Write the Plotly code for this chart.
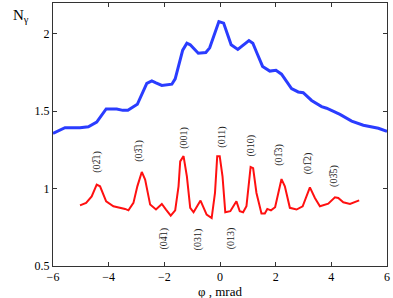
import plotly.graph_objects as go

blue_x = [-6.0, -5.57, -5.03, -4.73, -4.43, -4.09, -3.71, -3.49, -3.31, -2.97, -2.63, -2.45, -2.30, -2.09,
          -1.73, -1.61, -1.34, -1.19, -1.07, -0.78, -0.51, -0.37, -0.04, 0.13, 0.40, 0.64, 1.04, 1.18,
          1.33, 1.53, 1.79, 2.01, 2.21, 2.57, 2.81, 2.99, 3.29, 3.65, 3.83, 4.31, 4.73, 5.15, 5.69, 6.0]
blue_y = [1.357, 1.394, 1.394, 1.40, 1.43, 1.515, 1.515, 1.506, 1.506, 1.545, 1.68, 1.697, 1.684, 1.667,
          1.675, 1.71, 1.895, 1.94, 1.93, 1.875, 1.88, 1.91, 2.08, 2.07, 1.93, 1.90, 1.957, 1.94,
          1.875, 1.79, 1.76, 1.765, 1.74, 1.647, 1.625, 1.62, 1.57, 1.53, 1.52, 1.48, 1.437, 1.41, 1.39, 1.37]

red_x = [-5.03, -4.81, -4.61, -4.43, -4.31, -4.09, -3.83, -3.65, -3.41, -3.29, -3.11, -2.97, -2.81, -2.69,
         -2.51, -2.30, -2.09, -1.94, -1.77, -1.61, -1.49, -1.43, -1.31, -1.19, -1.07, -0.95, -0.85, -0.70,
         -0.48, -0.30, -0.18, -0.10, -0.01, 0.09, 0.19, 0.37, 0.59, 0.71, 0.83, 0.95, 1.10, 1.19, 1.31,
         1.49, 1.61, 1.70, 1.83, 1.98, 2.21, 2.33, 2.51, 2.75, 2.97, 3.23, 3.41, 3.59, 3.89, 4.13, 4.25,
         4.43, 4.67, 5.00]
red_y = [0.892, 0.908, 0.95, 1.026, 1.015, 0.918, 0.886, 0.88, 0.869, 0.86, 0.908, 1.015, 1.108, 1.058,
         0.897, 0.865, 0.901, 0.865, 0.826, 0.86, 1.015, 1.176, 1.21, 1.08, 0.876, 0.847, 0.876, 0.923,
         0.832, 0.81, 0.972, 1.21, 1.21, 1.08, 0.847, 0.854, 0.918, 0.854, 0.847, 0.886, 1.14, 1.133, 0.972,
         0.839, 0.839, 0.869, 0.86, 0.88, 1.062, 1.015, 0.876, 0.865, 0.886, 1.008, 0.94, 0.886, 0.903, 0.944, 0.94,
         0.912, 0.901, 0.924]

OB = "\u0305"
label_text = ["(02" + OB + "1)", "(03" + OB + "1)", "(001)", "(011)", "(010)",
              "(01" + OB + "3)", "(01" + OB + "2)", "(03" + OB + "5)",
              "(04" + OB + "1)", "(031)", "(013)"]
label_x = [-4.42, -2.91, -1.32, 0.04, 1.12, 2.09, 3.17, 4.12, -2.0, -0.80, 0.40]
label_y = [1.174, 1.245, 1.33, 1.33, 1.28, 1.22, 1.165, 1.08, 0.68, 0.67, 0.68]

x_ticks = [-6, -4, -2, 0, 2, 4, 6]
y_ticks = [0.5, 1, 1.5, 2]
y_ticklabels = ["0.5", "1", "1.5", "2"]

FONT = "Liberation Serif"

fig = go.Figure()
fig.add_trace(go.Scatter(x=blue_x, y=blue_y, mode="lines",
                         line=dict(color="#2a3cff", width=3), showlegend=False))
fig.add_trace(go.Scatter(x=red_x, y=red_y, mode="lines",
                         line=dict(color="#ff1010", width=2), showlegend=False))

for t, x, y in zip(label_text, label_x, label_y):
    fig.add_annotation(x=x, y=y, text=t, textangle=-90, showarrow=False,
                       font=dict(family=FONT, size=10, color="#222"))

fig.add_annotation(xref="paper", yref="paper", x=-0.125, y=0.992, yanchor="top",
                   text="N<sub>γ</sub>", showarrow=False,
                   font=dict(family=FONT, size=15, color="black"))
fig.add_annotation(xref="paper", yref="paper", x=0.5, y=-0.097, yanchor="middle",
                   text="φ , mrad", showarrow=False,
                   font=dict(family=FONT, size=13, color="black"))

axis_common = dict(showline=True, linecolor="#333", linewidth=1, mirror="ticks",
                   ticks="inside", ticklen=4, tickcolor="#333", showgrid=False,
                   zeroline=False, tickfont=dict(family=FONT, size=12, color="black"))

fig.update_xaxes(range=[-6, 6], tickvals=x_ticks, **axis_common)
fig.update_yaxes(range=[0.5, 2.2], tickvals=y_ticks, ticktext=y_ticklabels, **axis_common)

fig.update_layout(width=393, height=298, margin=dict(l=53, r=6, t=3, b=32),
                  paper_bgcolor="white", plot_bgcolor="white")

fig.write_html("out.html", config={"displayModeBar": False},
               post_script="document.body.style.margin='0';document.body.style.padding='0';")
